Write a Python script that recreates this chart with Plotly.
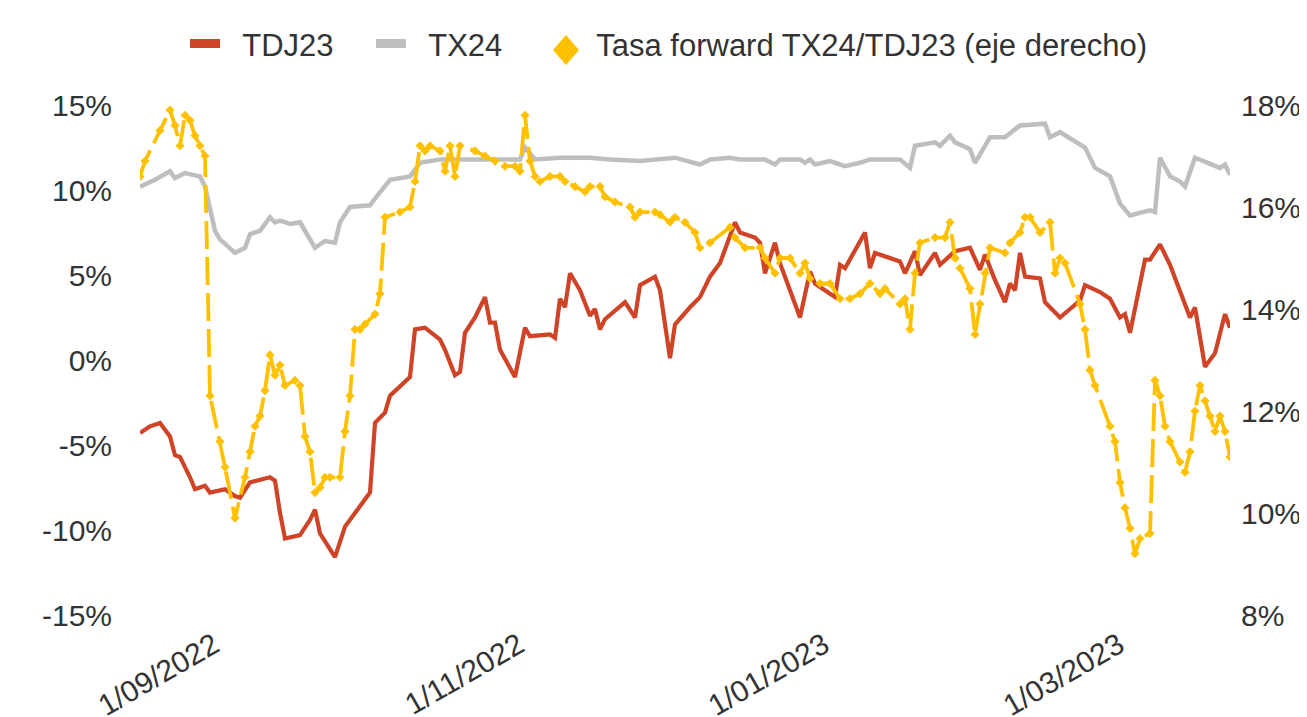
import plotly.graph_objects as go

# ---------------- data ----------------
tdj23_dates = [
    "2022-08-14", "2022-08-16", "2022-08-18", "2022-08-20", "2022-08-21", "2022-08-22", "2022-08-24", "2022-08-25",
    "2022-08-27", "2022-08-28", "2022-08-31", "2022-09-02", "2022-09-03", "2022-09-05", "2022-09-09", "2022-09-10",
    "2022-09-11", "2022-09-12", "2022-09-15", "2022-09-17", "2022-09-18", "2022-09-19", "2022-09-22", "2022-09-24",
    "2022-09-26", "2022-09-29", "2022-09-30", "2022-10-02", "2022-10-03", "2022-10-07", "2022-10-08", "2022-10-10",
    "2022-10-13", "2022-10-14", "2022-10-16", "2022-10-17", "2022-10-18", "2022-10-20", "2022-10-22", "2022-10-23",
    "2022-10-24", "2022-10-25", "2022-10-28", "2022-10-30", "2022-10-31", "2022-11-04", "2022-11-05", "2022-11-06",
    "2022-11-07", "2022-11-08", "2022-11-10", "2022-11-12", "2022-11-13", "2022-11-14", "2022-11-15", "2022-11-19",
    "2022-11-21", "2022-11-22", "2022-11-25", "2022-11-26", "2022-11-28", "2022-11-29", "2022-12-02", "2022-12-04",
    "2022-12-06", "2022-12-08", "2022-12-11", "2022-12-12", "2022-12-15", "2022-12-16", "2022-12-17", "2022-12-19",
    "2022-12-20", "2022-12-24", "2022-12-26", "2022-12-27", "2022-12-30", "2022-12-31", "2023-01-01", "2023-01-02",
    "2023-01-06", "2023-01-07", "2023-01-08", "2023-01-11", "2023-01-13", "2023-01-14", "2023-01-16", "2023-01-17",
    "2023-01-20", "2023-01-21", "2023-01-24", "2023-01-27", "2023-01-29", "2023-01-30", "2023-02-01", "2023-02-03",
    "2023-02-04", "2023-02-05", "2023-02-06", "2023-02-07", "2023-02-10", "2023-02-11", "2023-02-14", "2023-02-18",
    "2023-02-19", "2023-02-22", "2023-02-24", "2023-02-26", "2023-02-27", "2023-02-28", "2023-03-03", "2023-03-04",
    "2023-03-06", "2023-03-08", "2023-03-10", "2023-03-12", "2023-03-13", "2023-03-15", "2023-03-17", "2023-03-19",
    "2023-03-20",
]
tdj23_values = [
    -4.3, -3.9, -3.7, -4.5, -5.6, -5.7, -6.9, -7.6,
    -7.4, -7.8, -7.6, -8.0, -8.1, -7.2, -6.9, -7.1,
    -9.0, -10.5, -10.3, -9.4, -8.8, -10.2, -11.6, -9.8,
    -9.0, -7.8, -3.7, -3.1, -2.1, -1.0, 1.8, 1.9,
    1.2, 0.6, -0.9, -0.7, 1.6, 2.5, 3.7, 2.2,
    2.2, 0.6, -1.0, 1.9, 1.4, 1.5, 1.3, 3.6,
    3.1, 5.1, 4.1, 2.6, 3.0, 1.8, 2.4, 3.4,
    2.5, 4.4, 4.9, 4.1, 0.1, 2.1, 3.1, 3.7,
    4.9, 5.7, 8.1, 7.5, 7.2, 6.9, 5.1, 6.9,
    5.7, 2.5, 5.2, 4.5, 3.9, 3.7, 5.6, 5.4,
    7.5, 5.4, 6.3, 6.0, 5.8, 5.1, 6.4, 5.0,
    6.3, 5.6, 6.4, 6.6, 5.3, 6.2, 4.7, 3.4,
    4.5, 4.1, 6.3, 4.9, 4.8, 3.4, 2.5, 3.5,
    4.4, 4.0, 3.6, 2.5, 2.7, 1.6, 5.9, 5.9,
    6.8, 5.6, 4.1, 2.5, 3.1, -0.4, 0.4, 2.7,
    1.9,
]

tx24_dates = [
    "2022-08-14", "2022-08-17", "2022-08-20", "2022-08-21", "2022-08-23", "2022-08-26", "2022-08-27", "2022-08-28",
    "2022-08-29", "2022-08-30", "2022-09-02", "2022-09-04", "2022-09-05", "2022-09-07", "2022-09-09", "2022-09-10",
    "2022-09-11", "2022-09-13", "2022-09-15", "2022-09-18", "2022-09-20", "2022-09-22", "2022-09-23", "2022-09-25",
    "2022-09-29", "2022-09-30", "2022-10-03", "2022-10-07", "2022-10-09", "2022-10-13", "2022-10-29", "2022-10-30",
    "2022-11-01", "2022-11-06", "2022-11-12", "2022-11-16", "2022-11-22", "2022-11-29", "2022-12-04", "2022-12-06",
    "2022-12-10", "2022-12-12", "2022-12-17", "2022-12-19", "2022-12-20", "2022-12-24", "2022-12-25", "2022-12-26",
    "2022-12-27", "2022-12-30", "2023-01-02", "2023-01-05", "2023-01-07", "2023-01-13", "2023-01-15", "2023-01-16",
    "2023-01-20", "2023-01-21", "2023-01-23", "2023-01-24", "2023-01-27", "2023-01-28", "2023-01-31", "2023-02-03",
    "2023-02-06", "2023-02-11", "2023-02-12", "2023-02-14", "2023-02-19", "2023-02-21", "2023-02-24", "2023-02-26",
    "2023-02-28", "2023-03-04", "2023-03-05", "2023-03-06", "2023-03-08", "2023-03-10", "2023-03-11", "2023-03-13",
    "2023-03-16", "2023-03-18", "2023-03-19", "2023-03-20",
]
tx24_values = [
    10.2, 10.6, 11.1, 10.7, 11.0, 10.8, 10.2, 9.0,
    7.6, 7.1, 6.3, 6.6, 7.4, 7.6, 8.4, 8.1,
    8.2, 8.0, 8.1, 6.6, 7.0, 6.9, 8.1, 9.0,
    9.1, 9.5, 10.6, 10.8, 11.6, 11.8, 11.8, 12.5,
    11.8, 11.9, 11.9, 11.8, 11.7, 11.9, 11.5, 11.8,
    11.9, 11.8, 11.8, 11.5, 11.8, 11.8, 11.6, 11.8,
    11.5, 11.7, 11.4, 11.6, 11.8, 11.8, 11.3, 12.6,
    12.8, 12.6, 13.2, 12.8, 12.4, 11.6, 13.1, 13.1,
    13.8, 13.9, 13.1, 13.4, 12.5, 11.3, 10.8, 9.2,
    8.5, 8.8, 8.7, 11.9, 10.8, 10.5, 10.2, 11.9,
    11.5, 11.3, 11.5, 10.9,
]

fwd_dates = [
    "2022-08-14", "2022-08-15", "2022-08-18", "2022-08-20", "2022-08-21", "2022-08-22", "2022-08-23", "2022-08-24",
    "2022-08-25", "2022-08-26", "2022-08-27", "2022-08-28", "2022-08-30", "2022-08-31", "2022-09-02", "2022-09-04",
    "2022-09-05", "2022-09-06", "2022-09-07", "2022-09-08", "2022-09-09", "2022-09-10", "2022-09-11", "2022-09-12",
    "2022-09-14", "2022-09-15", "2022-09-16", "2022-09-17", "2022-09-18", "2022-09-19", "2022-09-20", "2022-09-21",
    "2022-09-23", "2022-09-24", "2022-09-25", "2022-09-26", "2022-09-27", "2022-09-28", "2022-09-30", "2022-10-01",
    "2022-10-02", "2022-10-05", "2022-10-07", "2022-10-08", "2022-10-09", "2022-10-10", "2022-10-11", "2022-10-13",
    "2022-10-14", "2022-10-15", "2022-10-16", "2022-10-17", "2022-10-20", "2022-10-22", "2022-10-24", "2022-10-26",
    "2022-10-28", "2022-10-29", "2022-10-30", "2022-10-31", "2022-11-01", "2022-11-02", "2022-11-04", "2022-11-06",
    "2022-11-07", "2022-11-09", "2022-11-11", "2022-11-12", "2022-11-14", "2022-11-15", "2022-11-17", "2022-11-20",
    "2022-11-21", "2022-11-22", "2022-11-25", "2022-11-26", "2022-11-28", "2022-11-29", "2022-12-01", "2022-12-03",
    "2022-12-04", "2022-12-06", "2022-12-10", "2022-12-11", "2022-12-13", "2022-12-16", "2022-12-17", "2022-12-19",
    "2022-12-20", "2022-12-22", "2022-12-24", "2022-12-25", "2022-12-26", "2022-12-28", "2022-12-30", "2023-01-01",
    "2023-01-03", "2023-01-05", "2023-01-07", "2023-01-09", "2023-01-10", "2023-01-13", "2023-01-14", "2023-01-15",
    "2023-01-16", "2023-01-17", "2023-01-20", "2023-01-22", "2023-01-23", "2023-01-24", "2023-01-25", "2023-01-27",
    "2023-01-28", "2023-01-29", "2023-01-30", "2023-01-31", "2023-02-03", "2023-02-04", "2023-02-06", "2023-02-07",
    "2023-02-08", "2023-02-10", "2023-02-12", "2023-02-13", "2023-02-14", "2023-02-15", "2023-02-18", "2023-02-19",
    "2023-02-20", "2023-02-21", "2023-02-24", "2023-02-25", "2023-02-26", "2023-02-27", "2023-02-28", "2023-03-01",
    "2023-03-02", "2023-03-04", "2023-03-05", "2023-03-06", "2023-03-07", "2023-03-08", "2023-03-10", "2023-03-11",
    "2023-03-12", "2023-03-13", "2023-03-14", "2023-03-15", "2023-03-16", "2023-03-17", "2023-03-18", "2023-03-19",
    "2023-03-20",
]
fwd_values = [
    16.6, 16.9, 17.5, 17.9, 17.6, 17.2, 17.8, 17.7,
    17.4, 17.2, 17.0, 12.3, 11.4, 10.9, 9.9, 10.7,
    11.2, 11.7, 11.9, 12.4, 13.1, 12.7, 12.9, 12.5,
    12.6, 12.5, 11.5, 11.2, 10.4, 10.5, 10.7, 10.7,
    10.7, 11.6, 12.3, 13.6, 13.6, 13.7, 13.9, 14.3,
    15.8, 15.9, 16.0, 16.5, 17.2, 17.1, 17.2, 17.1,
    16.7, 17.2, 16.6, 17.2, 17.1, 17.0, 16.9, 16.8,
    16.8, 16.7, 17.8, 16.9, 16.6, 16.5, 16.6, 16.6,
    16.5, 16.4, 16.3, 16.4, 16.4, 16.2, 16.1, 16.0,
    15.8, 15.9, 15.9, 15.85, 15.7, 15.8, 15.7, 15.5,
    15.2, 15.3, 15.6, 15.4, 15.2, 15.2, 15.0, 14.7,
    15.0, 15.0, 14.7, 14.9, 14.6, 14.5, 14.5, 14.2,
    14.2, 14.3, 14.5, 14.3, 14.4, 14.1, 14.2, 13.6,
    14.7, 15.3, 15.4, 15.4, 15.7, 15.0, 14.8, 14.4,
    13.5, 14.1, 14.7, 15.2, 15.1, 15.3, 15.5, 15.8,
    15.8, 15.5, 15.7, 14.7, 15.0, 14.9, 14.1, 13.6,
    12.8, 12.5, 11.7, 11.4, 10.6, 10.1, 9.7, 9.2,
    9.5, 9.6, 12.6, 12.3, 11.7, 11.4, 11.0, 10.8,
    11.2, 12.0, 12.5, 12.2, 11.9, 11.6, 11.9, 11.6,
    11.1,
]

left_ticks = [-15, -10, -5, 0, 5, 10, 15]
left_labels = ["-15%", "-10%", "-5%", "0%", "5%", "10%", "15%"]
right_ticks = [8, 10, 12, 14, 16, 18]
right_labels = ["8%", "10%", "12%", "14%", "16%", "18%"]
x_ticks = ["2022-09-01", "2022-11-01", "2023-01-01", "2023-03-01"]
series_names = ["TDJ23", "TX24", "Tasa forward TX24/TDJ23 (eje derecho)"]

# ---------------- style ----------------
RED = "#CF4427"
GRAY = "#BEBEBE"
GOLD = "#FFC000"
FONT = "Liberation Sans, Arial, sans-serif"
TXT = "#333333"
FS = 30
NB = "\u00a0"
W, H = 1307, 717
ML, MR, MT, MB = 132, 85, 97, 110

fig = go.Figure()

fig.add_trace(go.Scatter(x=tx24_dates, y=tx24_values, mode="lines", name=series_names[1],
                         line=dict(color=GRAY, width=4.5), showlegend=False))
fig.add_trace(go.Scatter(x=fwd_dates, y=fwd_values, mode="lines+markers", yaxis="y2",
                         name=series_names[2],
                         line=dict(color=GOLD, width=3.8, dash="28px,8px"),
                         marker=dict(symbol="diamond", size=7, color=GOLD),
                         showlegend=False))
fig.add_trace(go.Scatter(x=tdj23_dates, y=tdj23_values, mode="lines", name=series_names[0],
                         line=dict(color=RED, width=4.2), showlegend=False))

# legend entries (one legend per item for exact placement)
fig.add_trace(go.Scatter(x=[None], y=[None], mode="lines", name=NB * 2 + series_names[0],
                         line=dict(color=RED, width=9), legend="legend"))
fig.add_trace(go.Scatter(x=[None], y=[None], mode="lines", name=NB * 2 + series_names[1],
                         line=dict(color=GRAY, width=9), legend="legend2"))
fig.add_trace(go.Scatter(x=[None], y=[None], mode="markers", name=NB * 2 + series_names[2],
                         marker=dict(symbol="diamond", size=1, color="rgba(0,0,0,0)"), legend="legend3"))

leg_common = dict(orientation="h", xref="container", xanchor="left", y=0.95, yanchor="middle",
                  yref="container", font=dict(size=31, color=TXT), itemwidth=30,
                  bgcolor="rgba(0,0,0,0)")

# larger legend diamond drawn as a shape (in paper coordinates)
pw, ph = W - ML - MR, H - MT - MB
cx, cy, hw, hh = 558, 42, 13, 15
def px(v):
    return (v - ML) / pw
def py(v):
    return (H - MB - v) / ph
diamond_path = (f"M {px(cx)},{py(cy - hh)} L {px(cx + hw)},{py(cy)} "
                f"L {px(cx)},{py(cy + hh)} L {px(cx - hw)},{py(cy)} Z")

fig.update_layout(
    width=W, height=H,
    margin=dict(l=ML, r=MR, t=MT, b=MB),
    paper_bgcolor="white", plot_bgcolor="white",
    font=dict(family=FONT, size=FS, color=TXT),
    showlegend=True,
    legend=dict(x=177 / W, **leg_common),
    legend2=dict(x=363 / W, **leg_common),
    legend3=dict(x=531 / W, **leg_common),
    shapes=[dict(type="path", xref="paper", yref="paper", path=diamond_path,
                 fillcolor=GOLD, line=dict(width=0))],
    xaxis=dict(range=["2022-08-14", "2023-03-20"], tickvals=x_ticks, tickformat="%-d/%m/%Y",
               tickangle=-30, showgrid=False, zeroline=False, showline=False, ticks="",
               ticklabelshift=-16, ticklabelstandoff=6, automargin=False),
    yaxis=dict(range=[-15, 15], tickvals=left_ticks, ticktext=left_labels, showgrid=False,
               zeroline=False, showline=False, ticks="", ticklabelstandoff=27, automargin=False),
    yaxis2=dict(range=[8, 18], tickvals=right_ticks, ticktext=right_labels, overlaying="y", side="right",
                showgrid=False, zeroline=False, showline=False, ticks="", ticklabelstandoff=10,
                automargin=False),
)

fig.write_html("out.html")
